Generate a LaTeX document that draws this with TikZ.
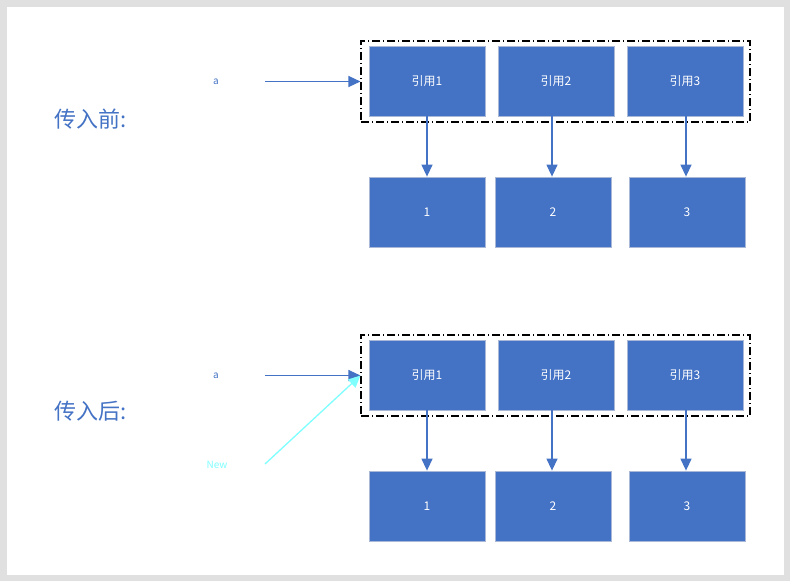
\documentclass[tikz,border=0pt]{standalone}
\usepackage{fontspec}
\setmainfont{Noto Sans CJK SC}
\usepackage{tikz}
\usetikzlibrary{arrows.meta}
\definecolor{boxblue}{HTML}{4472C4}
\definecolor{boxline}{HTML}{A9B8D6}
\definecolor{newcyan}{HTML}{80FFFF}
\definecolor{pagegray}{HTML}{E0E0E0}
\tikzset{
  cell/.style={draw=boxline, line width=0.8pt, fill=boxblue, text=white,
    minimum width=116pt, minimum height=70pt, font=\fontsize{12}{14}\selectfont},
  group/.style={draw=black, line width=1.1pt, dash pattern=on 8pt off 3pt on 1pt off 3pt,
    minimum width=389pt, minimum height=81pt},
  link/.style={draw=boxblue, line width=1.3pt, -{Triangle[length=12pt,width=11pt]}},
  title/.style={text=boxblue, font=\fontsize{22}{26}\selectfont},
  varname/.style={text=boxblue, font=\fontsize{10}{12}\selectfont}
}

\begin{document}
\begin{tikzpicture}[x=1pt, y=-1pt]
        % page
        \fill[pagegray] (0,0) rectangle (790,581);
        \fill[white] (7,7) rectangle (784,575);
        \useasboundingbox (0,0) rectangle (790,581);
        % before
        \node[title] (before) at (91,119) {传入前:};
        \node[varname] (a1) at (216,82) {a};
        \coordinate (a1tail) at (265,81.5);
        \node[group] (group1) at (555.5,81.5) {};
        \node[cell] (ref11) at (427,81) {引用1};
        \node[cell] (ref12) at (556,81) {引用2};
        \node[cell] (ref13) at (685,81) {引用3};
        \node[cell] (val11) at (427,212) {1};
        \node[cell] (val12) at (553,212) {2};
        \node[cell] (val13) at (687,212) {3};
        \draw[link] (a1tail) -- (group1.west);
        \draw[link] (ref11.south) -- (val11.north);
        \draw[link] (ref12.south -| 552,0) -- (val12.north -| 552,0);
        \draw[link] (ref13.south -| 686,0) -- (val13.north -| 686,0);
        % after
        \node[title] (after) at (91,411) {传入后:};
        \node[varname] (a2) at (216,376) {a};
        \node[varname, text=newcyan] (new) at (217,465) {New};
        \coordinate (a2tail) at (265,375.5);
        \coordinate (newtail) at (265,464);
        \node[group] (group2) at (555.5,375.5) {};
        \node[cell] (ref21) at (427,375) {引用1};
        \node[cell] (ref22) at (556,375) {引用2};
        \node[cell] (ref23) at (685,375) {引用3};
        \node[cell] (val21) at (427,506) {1};
        \node[cell] (val22) at (553,506) {2};
        \node[cell] (val23) at (687,506) {3};
        \draw[link] (a2tail) -- (group2.west);
        \draw[link, draw=newcyan] (newtail) -- (group2.west);
        \draw[link] (ref21.south) -- (val21.north);
        \draw[link] (ref22.south -| 552,0) -- (val22.north -| 552,0);
        \draw[link] (ref23.south -| 686,0) -- (val23.north -| 686,0);
    \end{tikzpicture}
\end{document}
